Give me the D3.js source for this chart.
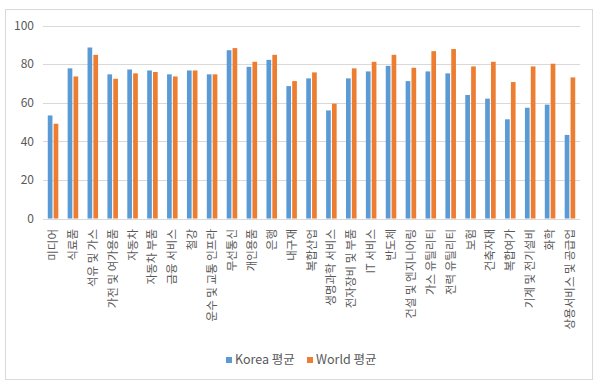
<!DOCTYPE html>
<html>
<head>
<meta charset="utf-8">
<script src="https://cdn.jsdelivr.net/npm/d3@7"></script>
<style>
  body { margin: 0; background: #fff; }
  text { font-family: "Noto Sans CJK KR", "Noto Sans", sans-serif; }
</style>
</head>
<body>
<script>
// ---------- data ----------
var categories = ["미디어", "식료품", "석유 및 가스", "가전 및 여가용품", "자동차", "자동차 부품",
  "금융 서비스", "철강", "운수 및 교통 인프라", "무선통신", "개인용품", "은행", "내구재", "복합산업",
  "생명과학 서비스", "전자장비 및 부품", "IT 서비스", "반도체", "건설 및 엔지니어링", "가스 유틸리티",
  "전력 유틸리티", "보험", "건축자재", "복합여가", "기계 및 전기설비", "화학", "상용서비스 및 공급업"];
var korea = [53.4, 77.8, 88.6, 74.7, 77.2, 76.7, 74.7, 76.7, 74.7, 87.2, 78.6, 82.2, 68.6, 72.6,
  56.0, 72.6, 76.2, 79.1, 71.2, 76.2, 75.2, 64.0, 62.1, 51.4, 57.4, 59.0, 43.3];
var world = [49.1, 73.6, 84.8, 72.4, 75.2, 75.9, 73.6, 76.7, 74.7, 88.3, 81.2, 84.8, 71.2, 75.7,
  59.5, 77.8, 81.2, 84.8, 78.1, 86.7, 87.8, 78.8, 81.2, 70.7, 78.8, 80.2, 73.1];
var seriesNames = ["Korea 평균", "World 평균"];
var seriesColors = ["#5B9BD5", "#ED7D31"];
var yTicks = [0, 20, 40, 60, 80, 100];

var W = 600, H = 388;
var svg = d3.select("body").append("svg").attr("width", W).attr("height", H);

// chart frame
svg.append("rect").attr("x", 5.5).attr("y", 9.5).attr("width", 587).attr("height", 370)
  .attr("fill", "#fff").attr("stroke", "#d9d9d9");

var plotL = 43, plotR = 580, plotT = 25.5, plotB = 218.5;

var x = d3.scaleBand().domain(categories).range([plotL, plotR]).paddingInner(0.47).paddingOuter(0.24);
var x1 = d3.scaleBand().domain(seriesNames).range([0, x.bandwidth()]).paddingInner(0.2);
var y = d3.scaleLinear().domain([0, 100]).range([plotB, plotT]);

// grid
svg.append("g").selectAll("line").data(yTicks).enter().append("line")
  .attr("x1", plotL).attr("x2", plotR)
  .attr("y1", function(d) { return Math.round(y(d)) + 0.5; })
  .attr("y2", function(d) { return Math.round(y(d)) + 0.5; })
  .attr("stroke", "#d9d9d9");

// y labels
svg.append("g").selectAll("text").data(yTicks).enter().append("text")
  .attr("x", 34).attr("y", function(d) { return y(d); })
  .attr("dy", "0.35em").attr("text-anchor", "end")
  .attr("font-size", 12).attr("fill", "#595959")
  .text(function(d) { return d; });

// bars
var rows = categories.map(function(c, i) { return {cat: c, vals: [korea[i], world[i]]}; });
var groups = svg.append("g").selectAll("g").data(rows).enter().append("g")
  .attr("transform", function(d) { return "translate(" + x(d.cat) + ",0)"; });
groups.selectAll("rect")
  .data(function(d) { return d.vals.map(function(v, j) { return {name: seriesNames[j], v: v, j: j}; }); })
  .enter().append("rect")
  .attr("x", function(d) { return x1(d.name); })
  .attr("width", x1.bandwidth())
  .attr("y", function(d) { return y(d.v); })
  .attr("height", function(d) { return y(0) - y(d.v); })
  .attr("fill", function(d) { return seriesColors[d.j]; });

// x labels rotated
svg.append("g").selectAll("text").data(categories).enter().append("text")
  .attr("transform", function(d) {
    return "translate(" + (x(d) + x.bandwidth() / 2) + ",229) rotate(-90)";
  })
  .attr("dy", "0.35em").attr("text-anchor", "end")
  .attr("font-size", 11.5).attr("fill", "#595959")
  .text(function(d) { return d; });

// legend
var legendX = [226, 307];
var leg = svg.append("g").selectAll("g").data(seriesNames).enter().append("g")
  .attr("transform", function(d, i) { return "translate(" + legendX[i] + ",356)"; });
leg.append("rect").attr("width", 6).attr("height", 6).attr("y", 1)
  .attr("fill", function(d, i) { return seriesColors[i]; });
leg.append("text").attr("x", 9).attr("y", 4).attr("dy", "0.35em")
  .attr("font-size", 12.5).attr("fill", "#595959")
  .text(function(d) { return d; });
</script>
</body>
</html>
